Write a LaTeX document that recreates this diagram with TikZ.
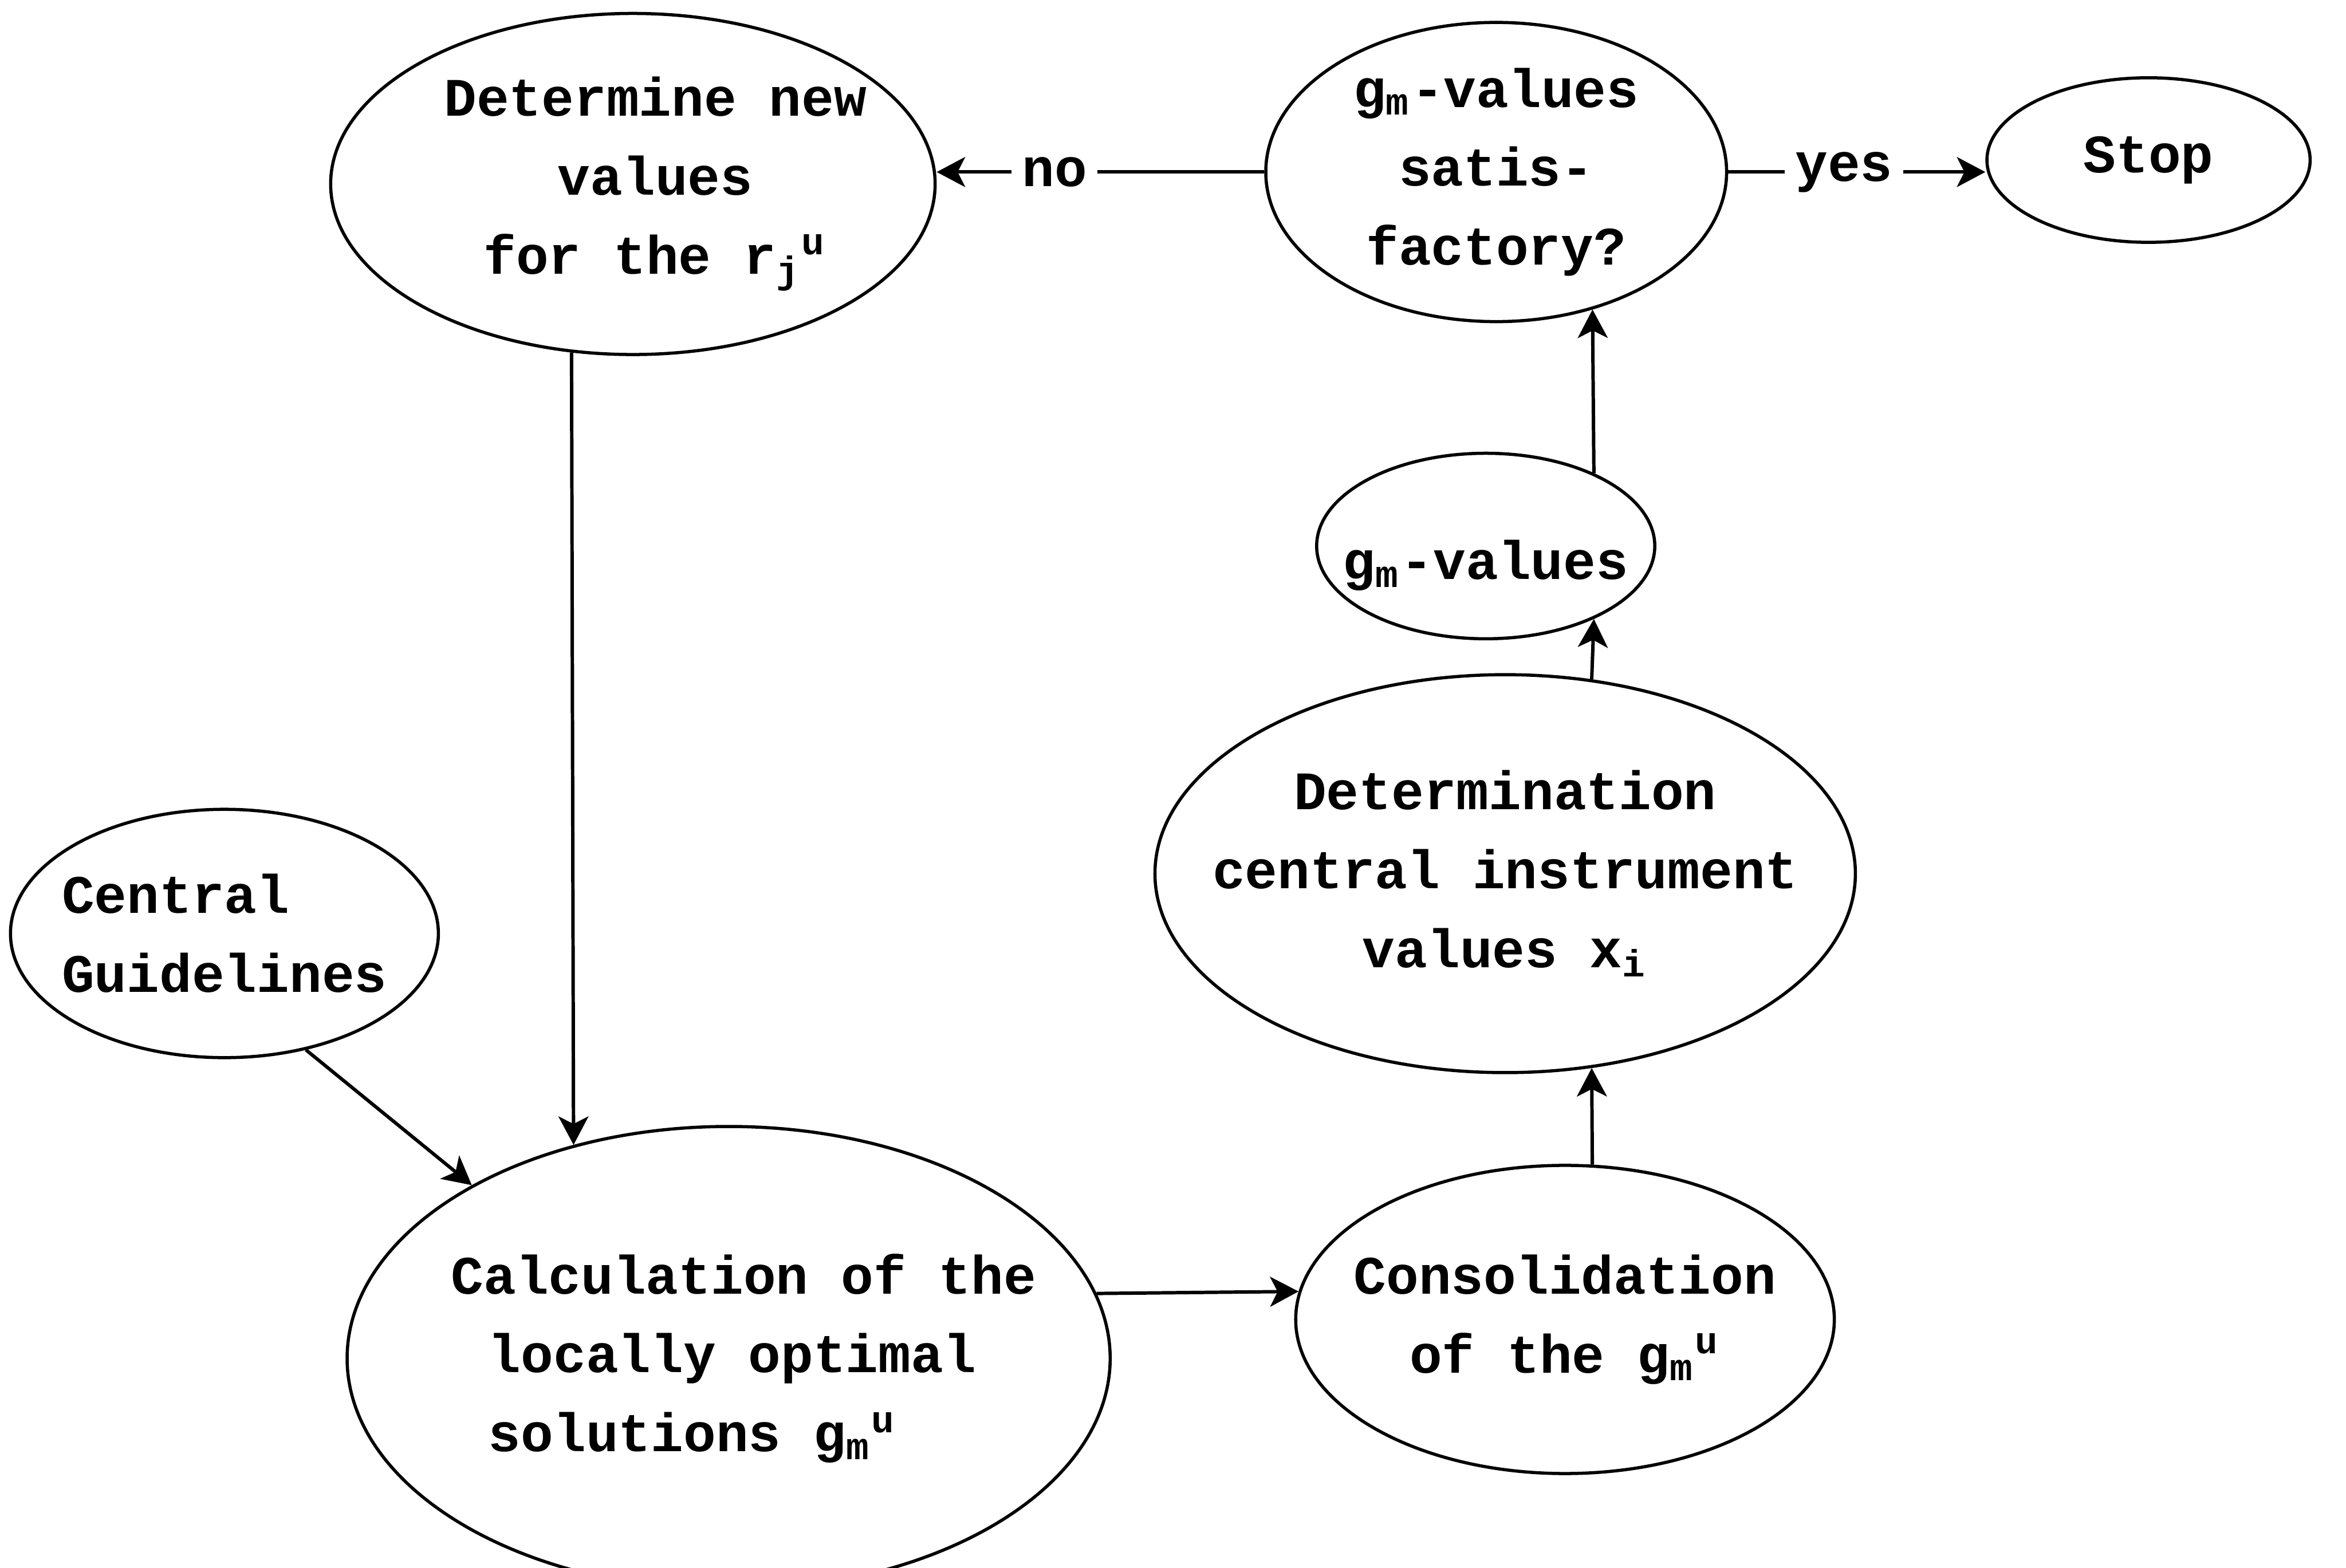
\documentclass[tikz,border=0pt]{standalone}
\usepackage{fontspec}
\newfontfamily\typewriter{Liberation Mono}
\usetikzlibrary{shapes.geometric, arrows.meta}

\begin{document}
\begin{tikzpicture}[
    font=\typewriter\bfseries\fontsize{10.3}{15}\selectfont,
    oval/.style={ellipse, draw, line width=0.6pt, inner xsep=-3mm, inner ysep=0pt, align=center},
    tag/.style={fill=white, inner sep=2pt},
    arr/.style={-{Stealth[length=1.9mm, width=2mm, inset=0.5mm]}, line width=0.65pt}
  ]
  \useasboundingbox (0,0) rectangle (15.68,10.48);

  % top row
  \node[oval, minimum width=4.04cm, minimum height=2.28cm] (detnew) at (4.23,9.25) {\hspace*{3mm}Determine new\\\hspace*{3mm}values\\\hspace*{3mm}for the r\textsubscript{j}\textsuperscript{u}};
  \node[oval, minimum width=3.08cm, minimum height=2.00cm] (sat) at (10.00,9.33) {g\textsubscript{m}-values\\satis-\\factory?};
  \node[oval, minimum width=2.16cm, minimum height=1.10cm] (stop) at (14.36,9.41) {Stop};

  % right column
  \node[oval, minimum width=2.26cm, minimum height=1.24cm] (gmv) at (9.93,6.83) {\raisebox{-1.3mm}[\height][\depth]{g\textsubscript{m}-values}};
  \node[oval, minimum width=4.62cm, minimum height=2.66cm] (detcen) at (10.06,4.64) {Determination\\central instrument\\values x\textsubscript{i}};

  % left and bottom
  \node[oval, align=left, minimum width=2.86cm, minimum height=1.66cm] (guide) at (1.50,4.24) {Central\\Guidelines};
  \node[oval, align=left, minimum width=5.10cm, minimum height=3.10cm] (calc) at (4.87,1.40) {\hspace*{2mm}Calculation of the\\\hspace*{4.5mm}locally optimal\\\hspace*{4.5mm}solutions g\textsubscript{m}\textsuperscript{u}};
  \node[oval, minimum width=3.60cm, minimum height=2.06cm] (cons) at (10.46,1.66) {Consolidation\\of the g\textsubscript{m}\textsuperscript{u}};

  \draw[arr] (guide.305) -- (calc.146);
  \draw[arr] (detnew.250.5) -- (calc.126.6);
  \draw[arr] (calc.10.4) -- (cons.174);
  \draw[arr] (cons.80.6) -- (detcen.294);
  \draw[arr] (detcen.66) -- (gmv.326);
  \draw[arr] (gmv.34) -- (sat.305);
  \draw[arr] (sat.west) -- node[tag, pos=0.64] {no} (sat.west -| detnew.east);
  \draw[arr] (sat.east) -- node[tag, pos=0.45] {yes} (sat.east -| stop.west);
\end{tikzpicture}
\end{document}
